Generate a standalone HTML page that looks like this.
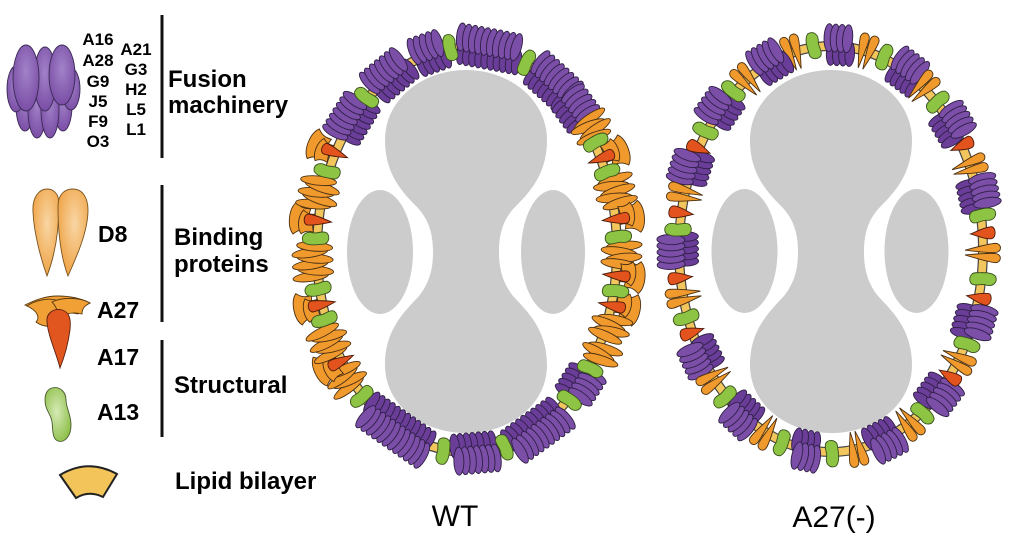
<!DOCTYPE html>
<html><head><meta charset="utf-8">
<style>
html,body{margin:0;padding:0;background:#fff;width:1024px;height:547px;overflow:hidden;}
svg{display:block;}
text{font-family:"Liberation Sans",Arial,sans-serif;fill:#000;}
.b{font-weight:bold;}
</style></head><body>
<svg id="s" width="1024" height="547" viewBox="0 0 1024 547" xmlns="http://www.w3.org/2000/svg">
<defs>
 <radialGradient id="gp" cx="50%" cy="40%" r="60%"><stop offset="0" stop-color="#a283c8"/><stop offset="1" stop-color="#7a4ea6"/></radialGradient>
 <radialGradient id="go" cx="55%" cy="40%" r="65%"><stop offset="0" stop-color="#f9d6a4"/><stop offset="1" stop-color="#eea040"/></radialGradient>
 <radialGradient id="gg" cx="45%" cy="45%" r="60%"><stop offset="0" stop-color="#d6eab6"/><stop offset="1" stop-color="#8fc04c"/></radialGradient>
 <path id="dumb" d="M 0 70 C 44 70, 81 100, 81 140 C 81 172, 66 190, 50 206 C 36 220, 33 236, 33 252 C 33 268, 36 282, 47 296 C 62 312, 81 330, 81 365 C 81 405, 44 433, 0 433 C -44 433, -81 405, -81 365 C -81 330, -62 312, -47 296 C -36 282, -33 268, -33 252 C -33 236, -36 220, -50 206 C -66 190, -81 172, -81 140 C -81 100, -44 70, 0 70 Z"/>
</defs>

<!-- Legend: fusion machinery glyph -->
<g stroke="#3b2a55" stroke-width="0.9" fill="url(#gp)">
 <ellipse cx="25" cy="106" rx="9" ry="25"/>
 <ellipse cx="63" cy="106" rx="9" ry="25"/>
 <ellipse cx="37" cy="110" rx="9" ry="28"/>
 <ellipse cx="50" cy="110" rx="9" ry="28"/>
 <ellipse cx="16" cy="89" rx="9" ry="23"/>
 <ellipse cx="71" cy="89" rx="9" ry="21"/>
 <ellipse cx="45" cy="79" rx="11" ry="32"/>
 <ellipse cx="26" cy="78" rx="13" ry="33"/>
 <ellipse cx="62" cy="75" rx="13" ry="30"/>
</g>
<!-- D8 glyph -->
<g stroke="#7a5420" stroke-width="0.9" fill="url(#go)">
 <path d="M 47 276 C 42 262, 34 235, 33 212 C 32 196, 40 189, 47 189 C 54 189, 59 194, 59 204 C 59 225, 57 250, 47 276 Z"/>
 <path d="M 68 276 C 60 255, 58 228, 58 206 C 58 195, 64 189, 73 189 C 82 189, 88 197, 88 210 C 88 232, 76 258, 68 276 Z"/>
</g>
<!-- A27 glyph -->
<g stroke="#5a3a10" stroke-width="0.9">
 <path fill="#f0a035" d="M 25 305 C 35 300, 45 296, 58 296 C 72 296, 82 299, 90 303 C 84 306, 80 309, 78 314 C 70 312, 50 312, 40 316 C 38 311, 32 307, 25 305 Z"/>
 <path fill="#f0a035" d="M 27 306 C 35 300, 48 298, 56 300 L 58 312 C 52 314, 50 320, 52 326 C 45 327, 40 325, 36 322 C 40 318, 38 311, 27 306 Z"/>
 <path fill="#f0a035" d="M 52 302 C 62 297, 80 297, 90 303 C 84 306, 82 309, 82 314 C 74 312, 66 313, 60 318 C 58 312, 56 306, 52 302 Z"/>
 <path fill="#e0561e" stroke="#5a2010" d="M 47 322 C 46 312, 55 308, 62 310 C 70 312, 71 320, 70 330 C 68 345, 64 358, 60 368 C 57 355, 48 336, 47 322 Z"/>
</g>
<!-- A13 glyph -->
<path fill="url(#gg)" stroke="#4a5a30" stroke-width="0.9" d="M 52 388 C 60 386, 66 392, 66 400 C 66 408, 71 414, 71 425 C 71 437, 64 443, 58 441 C 52 439, 53 430, 52 422 C 51 414, 45 410, 45 400 C 45 393, 48 389, 52 388 Z"/>
<!-- lipid bilayer glyph -->
<path fill="#f2c45a" stroke="#222" stroke-width="2" d="M 60 475 Q 88 458, 117 474 L 103 497 Q 89 490, 76 498 Z"/>

<!-- legend lines -->
<rect x="160.5" y="15" width="3" height="143" fill="#111"/>
<rect x="160.5" y="185" width="3" height="137" fill="#111"/>
<rect x="160.5" y="340" width="3" height="97" fill="#111"/>

<!-- legend text -->
<g class="b" font-size="17" text-anchor="middle">
 <text x="98" y="45">A16</text>
 <text x="98" y="66">A28</text>
 <text x="98" y="87">G9</text>
 <text x="98" y="107">J5</text>
 <text x="98" y="127">F9</text>
 <text x="98" y="147">O3</text>
 <text x="136" y="55">A21</text>
 <text x="136" y="75">G3</text>
 <text x="136" y="95">H2</text>
 <text x="136" y="115">L5</text>
 <text x="136" y="135">L1</text>
</g>
<g class="b" font-size="24">
 <text x="168" y="87">Fusion</text>
 <text x="168" y="113">machinery</text>
 <text x="174" y="245">Binding</text>
 <text x="174" y="272">proteins</text>
 <text x="174" y="393">Structural</text>
 <text x="175" y="489">Lipid bilayer</text>
</g>
<g class="b" font-size="23">
 <text x="98" y="242">D8</text>
 <text x="97" y="318">A27</text>
 <text x="97" y="365">A17</text>
 <text x="97" y="420">A13</text>
</g>

<!-- virion interiors -->
<g fill="#cccccc">
 <use href="#dumb" transform="translate(466,0)"/>
 <ellipse cx="380" cy="252" rx="33" ry="62"/>
 <ellipse cx="553" cy="252" rx="32" ry="62"/>
 <use href="#dumb" transform="translate(831,0)"/>
 <ellipse cx="744.5" cy="251" rx="33" ry="62"/>
 <ellipse cx="916.5" cy="251" rx="32" ry="62"/>
</g>

<!-- membranes -->
<ellipse cx="467" cy="250" rx="150" ry="202" fill="none" stroke="#444" stroke-width="10"/>
<ellipse cx="467" cy="250" rx="150" ry="202" fill="none" stroke="#f3c65d" stroke-width="7.6"/>
<ellipse cx="831" cy="249" rx="152" ry="203" fill="none" stroke="#444" stroke-width="10"/>
<ellipse cx="831" cy="249" rx="152" ry="203" fill="none" stroke="#f3c65d" stroke-width="7.6"/>

<g id="wt"></g>
<g id="mut"></g>

<text x="455" y="526" font-size="30" text-anchor="middle">WT</text>
<text x="834" y="527" font-size="30" text-anchor="middle">A27(-)</text>
</svg>
<script>
(function(){
var NS="http://www.w3.org/2000/svg";
function mk(tag,attrs,parent){var e=document.createElementNS(NS,tag);for(var k in attrs)e.setAttribute(k,attrs[k]);parent.appendChild(e);return e;}
var PF='#7b4ea8',PB='#6a3d98',PS='#2f1f45';
var OF='#f09a2e',OS='#4a2f10';
var RF='#e2531d',RS='#4a1a08';
var GF='#8dc443',GS='#39501c';
var drop="M0,18 C-1.5,10 -4.8,-6 -4.5,-13 C-4,-19 4,-19 4.5,-13 C4.8,-6 1.5,10 0,18 Z";
function purple(g,n){
  var i;
  for(i=0;i<n;i++){mk('ellipse',{cx:(i-(n-1)/2)*6.2+3,cy:7,rx:4.8,ry:12.5,fill:PB,stroke:PS,'stroke-width':0.9},g);}
  for(i=0;i<n;i++){var r=(i-(n-1)/2)*1.2;mk('ellipse',{cx:0,cy:0,rx:5,ry:14,transform:'translate('+((i-(n-1)/2)*6.2)+',-8) rotate('+r+')',fill:PF,stroke:PS,'stroke-width':0.9},g);}
}
function orange(g,n){
  if(n==2){
    mk('path',{d:drop,transform:'translate(-4,0) rotate(-5)',fill:OF,stroke:OS,'stroke-width':0.9},g);
    mk('path',{d:drop,transform:'translate(4,0) rotate(5)',fill:OF,stroke:OS,'stroke-width':0.9},g);
  } else {
    for(var i=0;i<n;i++){
      var off=(i%2?2:-3), rot=(i%2?7:-6);
      mk('ellipse',{cx:0,cy:0,rx:4.6,ry:18,transform:'translate('+((i-(n-1)/2)*6)+','+(-4+off)+') rotate('+rot+')',fill:OF,stroke:OS,'stroke-width':0.9},g);
    }
  }
}
function a27(g){
  mk('path',{d:"M-16,-24 C-9,-31 9,-31 16,-24 C12,-20 10,-16 11,-9 C4,-11 -4,-11 -11,-9 C-10,-16 -12,-20 -16,-24 Z",fill:OF,stroke:OS,'stroke-width':0.9},g);
  mk('path',{d:"M-12,-18 C-6,-23 6,-23 12,-18 C9,-15 8,-11 9,-6 C3,-8 -3,-8 -9,-6 C-8,-11 -9,-15 -12,-18 Z",fill:OF,stroke:OS,'stroke-width':0.9,transform:'translate(-3,2)'},g);
  mk('path',{d:"M-5.5,-10 C-6,-16 6,-16 5.5,-10 C5,-2 2,7 0,13 C-2,7 -5,-2 -5.5,-10 Z",fill:RF,stroke:RS,'stroke-width':0.9},g);
}
function green(g){
  mk('path',{d:"M-4,-14 C2,-17 7,-12 5.5,-5 C4.5,-1 7.5,3 6.5,8 C5,13 -5,13 -5.5,6 C-6,1 -8.5,-9 -4,-14 Z",fill:GF,stroke:GS,'stroke-width':0.9},g);
}
function red(g){
  mk('path',{d:"M-6,-9 C-6,-14 6,-14 6,-8 C6,-1 2,6 0,12 C-2,6 -6,-2 -6,-9 Z",fill:RF,stroke:RS,'stroke-width':0.9},g);
}
function build(parent,ell,list){
  var later=[];
  function place(it){
    var t=Math.atan2((it[3]-ell.cy)/ell.b,(it[2]-ell.cx)/ell.a);
    var px=ell.cx+ell.a*Math.cos(t), py=ell.cy+ell.b*Math.sin(t);
    var phi=Math.atan2(Math.sin(t)/ell.b,Math.cos(t)/ell.a);
    var rot=phi*180/Math.PI+90;
    return mk('g',{transform:'translate('+px.toFixed(2)+','+py.toFixed(2)+') rotate('+rot.toFixed(2)+')'},parent);
  }
  list.forEach(function(it){
    if(it[0]=='G'||it[0]=='R'){later.push(it);return;}
    var g=place(it);
    if(it[0]=='P')purple(g,it[1]);
    else if(it[0]=='O')orange(g,it[1]);
    else if(it[0]=='A')a27(g);
  });
  later.forEach(function(it){
    var g=place(it);
    if(it[0]=='G')green(g); else red(g);
  });
}
var wt=[
['P',7,347,115],['G',0,362,90],['P',7,388,75],['P',5,428,52],['G',0,450,45],['P',10,488,45],['G',0,527,60],['P',8,555,75],['P',5,580,100],
['O',4,593,125],['G',0,600,138],['A',0,613,150],['G',0,610,170],['O',5,617,190],['A',0,625,217],['G',0,617,237],['O',4,623,255],['A',0,625,277],
['G',0,618,292],['A',0,623,310],['O',4,612,330],['O',3,602,356],['G',0,593,372],['P',5,587,390],['G',0,572,405],['P',10,540,433],['G',0,505,450],
['P',7,477,458],['G',0,443,453],['P',12,397,433],['G',0,360,400],['O',4,345,382],['A',0,335,367],['O',5,327,345],['G',0,320,322],['A',0,313,308],
['G',0,315,290],['O',6,310,262],['G',0,312,238],['A',0,305,218],['O',5,313,190],['G',0,322,168],['A',0,325,145]
];
var mut=[
['P',4,838,42],['O',2,792,47],['G',0,813,40],['O',2,867,45],['G',0,885,53],['P',5,767,57],['P',5,908,65],['O',2,743,73],['O',2,927,80],
['G',0,733,90],['G',0,940,98],['P',5,717,107],['P',5,957,117],['G',0,705,130],['R',0,965,143],['R',0,697,147],['O',2,977,162],['P',5,687,167],
['P',5,983,190],['O',2,682,193],['G',0,983,215],['R',0,682,213],['R',0,985,233],['G',0,682,230],['O',2,990,253],['P',5,677,252],['R',0,680,278],
['G',0,987,280],['O',2,682,297],['R',0,985,300],['G',0,688,317],['P',5,983,325],['R',0,693,332],['G',0,970,347],['P',5,703,357],['O',2,963,365],
['R',0,953,380],['O',2,713,380],['G',0,725,398],['P',5,943,398],['P',5,743,417],['G',0,923,415],['O',2,913,433],['O',2,763,438],['G',0,782,443],
['P',4,807,455],['G',0,832,455],['O',2,857,453],['P',5,888,447]
];
build(document.getElementById('wt'),{cx:467,cy:250,a:150,b:202},wt);
build(document.getElementById('mut'),{cx:831,cy:249,a:152,b:203},mut);
})();
</script>
</body></html>
